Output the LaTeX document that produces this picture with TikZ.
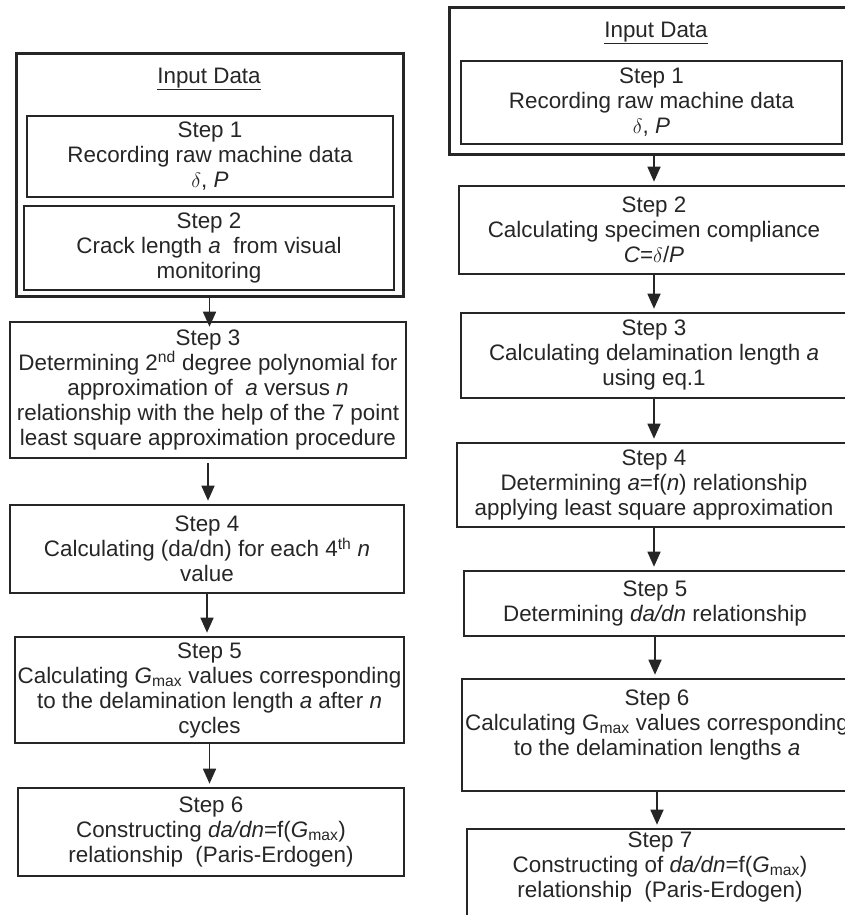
\documentclass[tikz,border=0pt]{standalone}
\usepackage{fontspec}
\setmainfont{Liberation Sans}
\usetikzlibrary{arrows.meta}

\begin{document}
\begin{tikzpicture}[x=1pt, y=-1pt,
  every node/.style={font=\fontsize{22.4}{25}\selectfont, text=black!85},
  outerbox/.style={draw=black!85, line width=3pt, inner sep=0pt},
  inbox/.style={draw=black!85, line width=1.8pt, align=center, inner xsep=2pt, inner ysep=0pt},
  stepbox/.style={draw=black!85, line width=2.6pt, align=center, inner xsep=2pt, inner ysep=0pt},
  flow/.style={-{Triangle[length=15pt,width=13pt]}, line width=1.6pt, draw=black!85, shorten >=3pt},
]
  \useasboundingbox (0,0) rectangle (845,915);
  \clip (0,0) rectangle (845,915);

  % Left procedure (visual crack monitoring)
  \node[outerbox, minimum width=387, minimum height=242] (inL) at (209.5,175) {};
  \node (tL) at (209,79) {\underline{Input Data}};
  \node[inbox, minimum width=366, minimum height=81] (a1) at (210,156.5)
    {Step 1\\Recording raw machine data\\$\delta$, \textit{P}};
  \node[inbox, minimum width=370, minimum height=84] (a2) at (209,248)
    {Step 2\\Crack length \textit{a}~ from visual\\monitoring};
  \node[stepbox, minimum width=396, minimum height=136] (a3) at (208,390)
    {Step 3\\Determining 2\textsuperscript{nd} degree polynomial for\\approximation of~ \textit{a} versus \textit{n}\\relationship with the help of the 7 point\\least square approximation procedure};
  \node[stepbox, minimum width=394, minimum height=88] (a4) at (207,549)
    {Step 4\\Calculating (da/dn) for each 4\textsuperscript{th} \textit{n}\\value};
  \node[stepbox, minimum width=389, minimum height=106] (a5) at (209.5,690)
    {Step 5\\Calculating \textit{G}\textsubscript{max} values corresponding\\to the delamination length \textit{a} after \textit{n}\\cycles};
  \node[stepbox, minimum width=386, minimum height=88] (a6) at (211,832)
    {Step 6\\Constructing \textit{da/dn}=f(\textit{G}\textsubscript{max})\\relationship~ (Paris-Erdogen)};

  % Right procedure (compliance based)
  \node[outerbox, minimum width=410, minimum height=146] (inR) at (654,81) {};
  \node (tR) at (656,33) {\underline{Input Data}};
  \node[inbox, minimum width=381, minimum height=83] (b1) at (651.5,102.5)
    {Step 1\\Recording raw machine data\\$\delta$, \textit{P}};
  \node[stepbox, minimum width=390, minimum height=88] (b2) at (654,230)
    {Step 2\\Calculating specimen compliance\\\textit{C}=$\delta$/\textit{P}};
  \node[stepbox, minimum width=386, minimum height=85] (b3) at (654,355.5)
    {Step 3\\Calculating delamination length \textit{a}\\using eq.1};
  \node[stepbox, minimum width=394, minimum height=84] (b4) at (654,485)
    {Step 4\\Determining \textit{a}=f(\textit{n}) relationship\\applying least square approximation};
  \node[stepbox, minimum width=382, minimum height=65] (b5) at (655,603.5)
    {Step 5\\Determining \textit{da/dn} relationship};
  \node[stepbox, minimum width=390, minimum height=112] (b6) at (657,735)
    {Step 6\\Calculating G\textsubscript{max} values corresponding\\to the delamination lengths \textit{a}\\ ~};
  \node[stepbox, minimum width=386, minimum height=96] (b7) at (660,877)
    {Step 7\\Constructing of \textit{da/dn}=f(\textit{G}\textsubscript{max})\\relationship~ (Paris-Erdogen)\\ ~};

  % Arrows
  \draw[flow, shorten >=-6pt] (inL.south) -- (inL.south |- a3.north);
  \draw[flow, shorten <=4pt] (a3.south) -- (a3.south |- a4.north);
  \draw[flow] (a4.south) -- (a4.south |- a5.north);
  \draw[flow] (a5.south) -- (a5.south |- a6.north);
  \draw[flow] (inR.south) -- (inR.south |- b2.north);
  \draw[flow] (b2.south) -- (b2.south |- b3.north);
  \draw[flow] (b3.south) -- (b3.south |- b4.north);
  \draw[flow] (b4.south) -- (b4.south |- b5.north);
  \draw[flow] (b5.south) -- (b5.south |- b6.north);
  \draw[flow] (b6.south) -- (b6.south |- b7.north);
\end{tikzpicture}
\end{document}
